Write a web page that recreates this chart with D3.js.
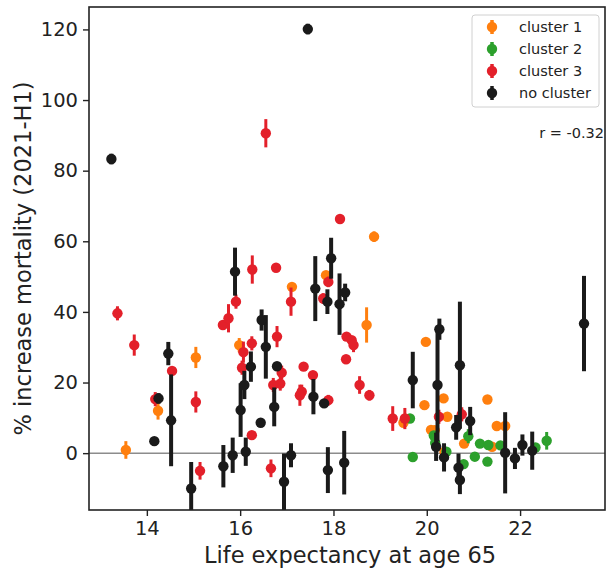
<!DOCTYPE html>
<html>
<head>
<meta charset="utf-8">
<script src="https://cdn.jsdelivr.net/npm/d3@7"></script>
<style>
  html, body { margin: 0; padding: 0; background: #fff; }
  svg { display: block; font-family: "DejaVu Sans", sans-serif; }
</style>
</head>
<body>
<svg id="chart" width="606" height="573"></svg>
<script>
// ---- Data ----
const xTicks = [14, 16, 18, 20, 22];
const yTicks = [0, 20, 40, 60, 80, 100, 120];
const seriesNames = ["cluster 1", "cluster 2", "cluster 3", "no cluster"];
const seriesColors = ["#ff7f0e", "#2ca02c", "#e3202a", "#1a1a1a"];

// cluster 1 (orange)
const c1X = [13.55, 14.24, 15.05, 15.98, 17.11, 17.84, 18.87, 18.71, 19.98, 19.95, 20.36, 20.44, 20.09, 20.17, 21.30, 20.80, 19.50, 21.50, 21.68, 21.40, 20.38];
const c1Y = [0.9, 12.0, 27.1, 30.6, 47.1, 50.4, 61.3, 36.3, 31.5, 13.6, 15.5, 10.3, 6.6, 6.5, 15.2, 2.7, 8.6, 7.7, 7.7, 1.8, 0.4];
const c1E = [2.5, 2.5, 3, 2, 1, 1, 1.5, 5, 0.5, 0.5, 1, 1, 0.5, 0.5, 1, 0.5, 1, 0.5, 0.5, 0.5, 0.5];

// cluster 2 (green)
const c2X = [19.70, 19.64, 20.15, 20.18, 20.42, 20.79, 20.89, 21.03, 21.14, 21.32, 21.30, 21.58, 22.33, 22.57];
const c2Y = [-1.1, 9.8, 5.0, 2.9, 0.4, -3.1, 4.8, -1.0, 2.7, 2.3, -2.4, 2.2, 1.6, 3.5];
const c2E = [0.5, 0.5, 1, 0.5, 0.5, 0.5, 2, 0.5, 0.5, 0.5, 0.5, 0.5, 0.5, 2.5];

// cluster 3 (red)
const c3X = [13.37, 13.73, 14.18, 14.54, 15.05, 15.14, 15.63, 15.75, 15.91, 16.04, 16.07, 16.25, 16.26, 16.77, 16.25, 16.66, 16.79, 16.71, 16.86, 16.89, 17.09, 17.36, 17.56, 17.32, 17.28, 17.89, 17.78, 18.14, 18.28, 18.39, 18.43, 18.27, 18.56, 18.77, 19.27, 19.53, 20.26, 20.75, 16.55, 17.89];
const c3Y = [39.6, 30.6, 15.3, 23.3, 14.5, -5.0, 36.3, 38.2, 42.9, 24.2, 28.6, 31.1, 52.0, 52.5, 5.1, -4.3, 33.0, 19.3, 19.7, 22.8, 42.9, 24.5, 22.1, 17.4, 16.4, 48.5, 43.8, 66.3, 33.0, 32.0, 30.6, 26.6, 19.3, 16.4, 9.8, 9.8, 10.3, 11.0, 90.6, 15.0];
const c3E = [2, 3, 2, 0.5, 3, 2.5, 0.5, 4, 2, 2, 3, 2, 4, 0.5, 0.5, 2.5, 3, 2, 2, 2, 4, 1, 0.5, 2, 3, 1.5, 1.5, 0.5, 1, 1, 2, 0.5, 2.5, 1.5, 3.5, 3, 2, 2, 4, 1.5];

// no cluster (black)
const c0X = [13.24, 17.45, 14.16, 14.25, 14.46, 14.52, 14.95, 15.64, 15.84, 15.89, 16.01, 16.09, 16.12, 16.23, 16.44, 16.46, 16.55, 16.79, 16.73, 16.94, 17.09, 17.61, 17.57, 17.80, 17.95, 17.87, 18.13, 18.25, 17.88, 18.23, 19.70, 20.27, 20.23, 20.20, 20.37, 20.71, 20.63, 20.93, 20.68, 20.71, 21.68, 21.89, 22.05, 22.26, 23.37];
const c0Y = [83.3, 120.1, 3.4, 15.5, 28.2, 9.3, -10.0, -3.7, -0.6, 51.4, 12.2, 19.3, 0.4, 24.5, 8.6, 37.7, 30.1, 24.6, 13.1, -8.1, -0.6, 46.6, 16.0, 14.1, 55.2, 42.9, 42.2, 45.5, -4.8, -2.7, 20.7, 35.1, 19.3, 1.8, -1.2, 24.9, 7.3, 9.1, -4.1, -7.6, 0.1, -1.5, 2.3, 0.7, 36.7];
const c0E = [1.5, 1.5, 1, 1.5, 3.3, 13, 7.5, 6, 5, 6.8, 7.6, 4, 4, 4.3, 0.5, 3, 9, 1, 5.5, 8, 3.4, 9.2, 5, 1, 5.8, 3.5, 8.7, 2.5, 6.5, 9, 8, 3, 16, 4, 4, 18, 3.5, 4, 4, 4, 11.5, 3, 3, 5.4, 13.5];

const rText = "r = -0.32";
const xLabel = "Life expectancy at age 65";
const yLabel = "% increase mortality (2021-H1)";

// ---- Layout ----
const svg = d3.select("#chart");
const L = 89, R = 605, T = 7, B = 510;

const x = d3.scaleLinear().domain([12.76, 23.82]).range([L, R]);
const y = d3.scaleLinear().domain([-16.1, 126.35]).range([B, T]);

// zero line
svg.append("line")
  .attr("x1", L).attr("x2", R)
  .attr("y1", y(0)).attr("y2", y(0))
  .attr("stroke", "#8c8c8c").attr("stroke-width", 1.5);

const series = [
  {x: c1X, y: c1Y, e: c1E, color: seriesColors[0], w: 3},
  {x: c2X, y: c2Y, e: c2E, color: seriesColors[1], w: 3},
  {x: c3X, y: c3Y, e: c3E, color: seriesColors[2], w: 3},
  {x: c0X, y: c0Y, e: c0E, color: seriesColors[3], w: 4}
];

const plot = svg.append("g");
svg.append("clipPath").attr("id", "clip")
  .append("rect").attr("x", L).attr("y", T).attr("width", R - L).attr("height", B - T);
plot.attr("clip-path", "url(#clip)");

series.forEach(s => {
  const pts = s.x.map((xv, i) => ({x: xv, y: s.y[i], e: s.e[i]}));
  const g = plot.append("g");
  g.selectAll("line").data(pts).enter().append("line")
    .attr("x1", d => x(d.x)).attr("x2", d => x(d.x))
    .attr("y1", d => y(d.y - d.e)).attr("y2", d => y(d.y + d.e))
    .attr("stroke", s.color).attr("stroke-width", s.w);
  g.selectAll("circle").data(pts).enter().append("circle")
    .attr("cx", d => x(d.x)).attr("cy", d => y(d.y))
    .attr("r", 5.2).attr("fill", s.color);
});

// axes
const xAxis = svg.append("g").attr("transform", `translate(0,${B})`)
  .call(d3.axisBottom(x).tickValues(xTicks).tickSize(6).tickPadding(5).tickFormat(d3.format("d")));
const yAxis = svg.append("g").attr("transform", `translate(${L},0)`)
  .call(d3.axisLeft(y).tickValues(yTicks).tickSize(6).tickPadding(5).tickFormat(d3.format("d")));
[xAxis, yAxis].forEach(a => {
  a.select(".domain").remove();
  a.selectAll(".tick line").attr("stroke", "#222").attr("stroke-width", 1.4);
  a.selectAll(".tick text").attr("fill", "#222")
    .style("font-family", "DejaVu Sans").style("font-size", "19.5px");
});

// frame
svg.append("rect")
  .attr("x", L).attr("y", T).attr("width", R - L).attr("height", B - T)
  .attr("fill", "none").attr("stroke", "#222").attr("stroke-width", 1.6);

// axis titles
svg.append("text")
  .attr("x", (L + R) / 2 + 3).attr("y", 563)
  .attr("text-anchor", "middle").attr("fill", "#222")
  .style("font-size", "22.5px").text(xLabel);
svg.append("text")
  .attr("transform", `translate(31,${(T + B) / 2}) rotate(-90)`)
  .attr("text-anchor", "middle").attr("fill", "#222")
  .style("font-size", "22.5px").text(yLabel);

// legend
const lg = svg.append("g");
lg.append("rect")
  .attr("x", 472).attr("y", 15).attr("width", 127).attr("height", 92)
  .attr("rx", 3).attr("fill", "#fff").attr("fill-opacity", 0.85)
  .attr("stroke", "#d0d0d0").attr("stroke-width", 1);
seriesNames.forEach((name, i) => {
  const cy = 27 + i * 22;
  lg.append("line").attr("x1", 492).attr("x2", 492)
    .attr("y1", cy - 7).attr("y2", cy + 7)
    .attr("stroke", seriesColors[i]).attr("stroke-width", 3.5);
  lg.append("circle").attr("cx", 492).attr("cy", cy).attr("r", 5.2)
    .attr("fill", seriesColors[i]);
  lg.append("text").attr("x", 519).attr("y", cy + 5)
    .attr("fill", "#222").style("font-size", "14.5px").text(name);
});

// correlation annotation
svg.append("text")
  .attr("x", 604).attr("y", 138).attr("text-anchor", "end")
  .attr("fill", "#222").style("font-size", "14.5px").text(rText);
</script>
</body>
</html>
